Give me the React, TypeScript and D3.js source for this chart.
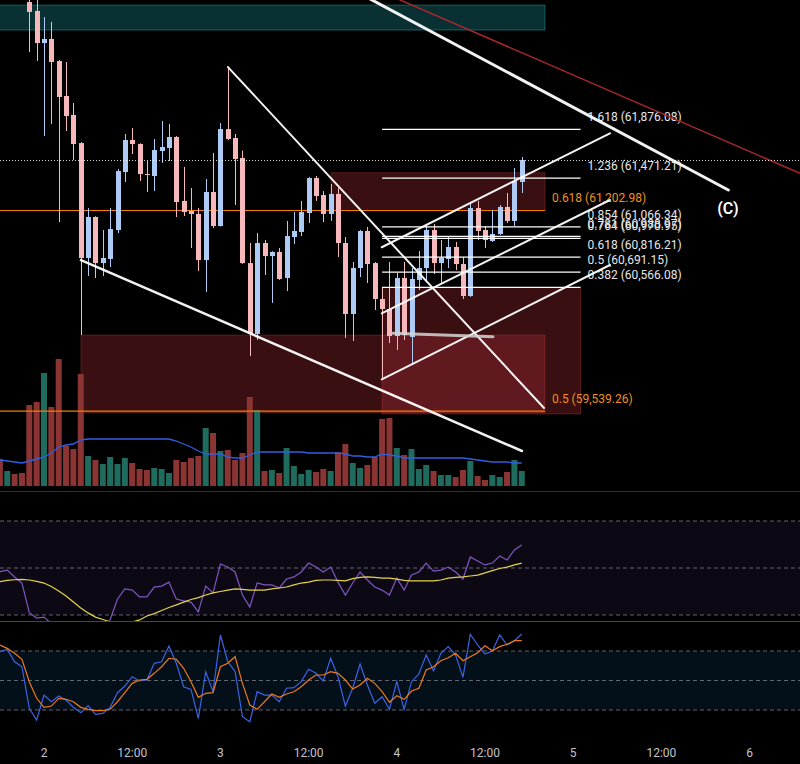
import React from 'react';
import * as d3 from 'd3';

const W = 800;
const H = 764;

// hour index 0 = day "2" 00:00 ; one candle per hour
const CANDLE_FIRST_HOUR = -2;
const candleOpen = [62931, 62857, 62591, 62625, 62442, 62152, 61995, 61762, 60809, 61149, 60767, 60801, 61041, 61522, 61787, 61754, 61505, 61489, 61696, 61721, 61812, 61282, 61199, 61174, 60792, 61356, 61074, 61878, 61804, 61638, 60767, 60179, 60933, 60825, 60859, 60643, 60983, 61025, 61182, 61472, 61331, 61174, 61340, 60933, 60345, 60726, 61033, 60767, 60469, 60386, 60162, 60643, 60154, 60627, 60726, 61041, 60767, 60801, 60900, 60759, 60494, 61223, 61041, 60950, 61008, 61232, 61116, 61439];
const candleHigh = [62990, 62950, 62807, 62766, 62450, 62434, 62094, 61770, 61223, 61155, 61041, 61223, 61547, 61837, 61887, 61760, 61613, 61796, 61945, 61920, 61820, 61563, 61389, 61223, 61464, 61680, 61928, 62392, 61837, 61700, 60933, 61016, 60958, 60865, 60892, 61116, 61190, 61282, 61480, 61489, 61364, 61422, 61389, 60983, 60776, 61041, 61066, 60776, 60568, 60776, 60685, 60776, 60726, 60867, 61074, 61091, 60958, 60983, 60942, 60817, 61265, 61282, 61074, 61207, 61248, 61348, 61555, 61646];
const candleLow = [62517, 62442, 61820, 61920, 61107, 61862, 61621, 60170, 60660, 60643, 60660, 60734, 61016, 61439, 61671, 61447, 61356, 61364, 61597, 61613, 61149, 61157, 60892, 60701, 60527, 61058, 61070, 61787, 61248, 60760, 59996, 60129, 60668, 60436, 60627, 60535, 60925, 60991, 61099, 61282, 61107, 61116, 60817, 60146, 60121, 60651, 60602, 60378, 59806, 60104, 60046, 60129, 59922, 60544, 60610, 60676, 60602, 60726, 60709, 60469, 60486, 60958, 60892, 60942, 61000, 61099, 61074, 61348];
const candleClose = [62849, 62591, 62625, 62434, 62144, 61986, 61754, 60809, 61149, 60767, 60809, 61049, 61530, 61787, 61754, 61505, 61497, 61704, 61729, 61812, 61273, 61190, 61174, 60792, 61356, 61074, 61878, 61796, 61630, 60767, 60179, 60933, 60825, 60859, 60635, 60991, 61033, 61190, 61472, 61323, 61174, 61340, 60933, 60345, 60726, 61033, 60759, 60469, 60386, 60162, 60643, 60170, 60635, 60726, 61041, 60767, 60809, 60900, 60759, 60494, 61223, 61033, 60958, 61008, 61232, 61116, 61447, 61621];

// indicator series start 4 hours earlier (their candles are above the visible price range)
const IND_FIRST_HOUR = -6;
const earlyVolumeSide = ['d', 'u', 'd', 'd'];
const volume = [675, 375, 300, 325, 2025, 2100, 2825, 1975, 3175, 1000, 925, 2800, 750, 650, 550, 725, 550, 700, 575, 425, 400, 450, 425, 325, 650, 600, 700, 750, 1450, 1325, 875, 900, 650, 825, 2225, 1900, 375, 400, 325, 950, 500, 300, 400, 350, 425, 375, 850, 1050, 575, 450, 525, 725, 1675, 1700, 950, 775, 925, 425, 525, 375, 275, 275, 225, 400, 625, 250, 150, 275, 225, 350, 650, 375];
const volumeMA = [650, 625, 600, 575, 625, 675, 725, 825, 975, 1025, 1050, 1150, 1175, 1175, 1175, 1175, 1175, 1175, 1175, 1175, 1175, 1175, 1175, 1175, 1125, 1050, 975, 875, 800, 800, 800, 725, 700, 700, 775, 850, 850, 850, 850, 850, 850, 850, 825, 825, 825, 825, 825, 800, 750, 750, 725, 725, 800, 775, 750, 700, 700, 700, 700, 700, 700, 700, 700, 700, 675, 650, 625, 600, 600, 600, 575, 575];
const rsi = [48.4, 49.1, 46.2, 43.6, 31.0, 28.7, 29.1, 26.4, 24, 25, 23, 20, 24, 25, 24, 28, 36.8, 41.1, 40.6, 37.7, 37.7, 41.9, 42.3, 44.0, 36.8, 36.0, 35.5, 31.3, 42.3, 39.4, 51.7, 50.4, 48.3, 38.5, 33.4, 43.6, 42.8, 42.8, 41.5, 45.3, 46.2, 48.3, 52.1, 50.4, 48.3, 50.4, 44.0, 38.5, 43.6, 48.3, 44.9, 41.9, 40.6, 38.5, 45.7, 40.6, 47.0, 48.3, 52.1, 48.7, 49.1, 50.4, 48.3, 45.3, 54.7, 53.0, 51.3, 52.1, 55.1, 53.4, 57.7, 59.8];
const rsiMA = [44.2, 44.7, 45.0, 45.2, 44.9, 44.3, 43.6, 42.1, 40.2, 38.1, 35.5, 33.0, 30.9, 29.1, 28.1, 27.1, 26.6, 26.6, 27.0, 27.9, 29.6, 30.6, 31.9, 33.2, 34.3, 35.5, 36.6, 37.4, 38.5, 39.4, 40.0, 40.6, 41.1, 40.9, 40.6, 40.6, 40.6, 41.1, 41.5, 41.9, 42.8, 43.6, 44.0, 44.7, 44.9, 44.9, 44.7, 44.5, 45.5, 46.0, 46.2, 46.0, 45.7, 45.7, 45.3, 44.7, 44.5, 44.5, 44.5, 44.5, 44.9, 45.7, 46.0, 46.2, 46.6, 47.0, 47.9, 48.9, 49.8, 50.4, 51.3, 52.1];
const stochK = [79.3, 81.7, 69.1, 64.0, 21.7, 9.8, 35.2, 28.4, 34.2, 30.2, 22.7, 17.2, 24.4, 15.6, 16.6, 22.7, 37.6, 44.4, 53.9, 49.5, 50.5, 67.5, 69.1, 85.1, 67.5, 43.7, 41.0, 11.5, 58.9, 38.6, 96.3, 69.1, 58.9, 13.2, 8.1, 38.6, 35.2, 35.2, 28.4, 42.1, 42.7, 48.8, 61.4, 57.3, 49.5, 72.6, 53.9, 24.0, 42.1, 66.8, 45.4, 26.8, 33.5, 20.7, 48.8, 20.7, 48.8, 56.6, 75.9, 60.0, 77.7, 84.4, 75.9, 53.2, 97.0, 86.1, 76.9, 80.0, 96.3, 86.1, 90.5, 97.3];
const stochD = [86.1, 82.7, 77.7, 71.6, 48.8, 31.9, 22.7, 24.0, 31.9, 30.9, 28.4, 22.7, 20.7, 19.3, 19.3, 20.7, 28.4, 37.6, 47.1, 50.5, 51.2, 57.3, 64.0, 72.6, 71.6, 62.4, 48.8, 32.9, 37.0, 37.6, 64.0, 67.5, 74.2, 47.1, 25.1, 20.7, 28.4, 36.3, 32.9, 36.3, 38.6, 43.7, 50.5, 55.6, 55.6, 58.9, 57.3, 50.5, 41.3, 45.4, 52.2, 47.1, 38.6, 27.9, 34.5, 30.9, 39.3, 42.1, 60.7, 64.0, 70.1, 73.2, 77.7, 70.1, 74.2, 78.3, 85.4, 80.3, 84.4, 86.8, 90.5, 90.5];

const tickHours = [0, 12, 24, 36, 48, 60, 72, 84, 96];
const tickLabels = ['2', '12:00', '3', '12:00', '4', '12:00', '5', '12:00', '6'];

const fibLevels = [1.618, 1.236, 0.854, 0.781, 0.764, 0.618, 0.5, 0.382];
const fibPrices = [61876.08, 61471.21, 61066.34, 60988.97, 60970.95, 60816.21, 60691.15, 60566.08];
const orangeLevels = [0.618, 0.5];
const orangePrices = [61202.98, 59539.26];

// drawing anchors in (hour, price)
const fibSpan = [46, 73];
const orangeSpan = [-8, 68.16];
const tealBox = { t0: -8, t1: 68.16, p0: 62906, p1: 62699 };
const redBoxes = [
  { t0: 5.03, t1: 68.16, p0: 60170, p1: 59527 },
  { t0: 45.99, t1: 73.0, p0: 60564, p1: 59516 },
  { t0: 39.05, t1: 68.16, p0: 61516, p1: 61203 },
];
const whiteLines = [
  { a: [43.67, 62979], b: [93.1, 61373], w: 3 },
  { a: [25.03, 62392], b: [68.03, 59565], w: 2 },
  { a: [5.03, 60791], b: [65.03, 59209], w: 2.5 },
  { a: [45.95, 60898], b: [77.0, 61843], w: 2 },
  { a: [45.95, 60350], b: [77.0, 61290], w: 2 },
  { a: [45.95, 59803], b: [77.0, 60751], w: 2 },
];
const grayLine = { a: [47.48, 60185], b: [61.09, 60156] };
const redLine = { a: [47.07, 62985], b: [102.86, 61511] };
const waveLabel = { t: 93.06, p: 61170, text: '(C)' };

const x = d3.scaleLinear().domain([0, 96]).range([44, 749.6]);
const yP = d3.scaleLinear().domain([58927, 62948]).range([485, 0]);
const yV = d3.scaleLinear().domain([0, 4000]).range([486, 326]);
const yR = d3.scaleLinear().domain([30, 70]).range([615, 521]);
const yS = d3.scaleLinear().domain([20, 80]).range([710, 651]);

const UP = '#aecbf6';
const DN = '#f7b8bc';
const FONT = 'Roboto, "Noto Sans", sans-serif';
const fmt = d3.format(',.2f');

export default function App() {
  const candles = candleOpen.map((o, k) => ({
    t: CANDLE_FIRST_HOUR + k,
    o,
    h: candleHigh[k],
    l: candleLow[k],
    c: candleClose[k],
  }));
  const lastClose = candleClose[candleClose.length - 1];

  const vols = volume.map((v, k) => {
    const t = IND_FIRST_HOUR + k;
    const ci = t - CANDLE_FIRST_HOUR;
    const up = ci >= 0 ? candleClose[ci] >= candleOpen[ci] : earlyVolumeSide[k] === 'u';
    return { t, v, up };
  });

  const indLine = (arr: number[], ys: d3.ScaleLinear<number, number>) =>
    d3.line<number>().x((_, k) => x(IND_FIRST_HOUR + k)).y((v) => ys(v))(arr) || '';

  const seg = (a: number[], b: number[]) => ({ x1: x(a[0]), y1: yP(a[1]), x2: x(b[0]), y2: yP(b[1]) });

  return (
    <svg width={W} height={H} style={{ position: 'fixed', left: 0, top: 0, background: '#000' }}>
      <defs>
        <clipPath id="mainClip"><rect x={0} y={0} width={W} height={490} /></clipPath>
        <clipPath id="rsiClip"><rect x={0} y={492} width={W} height={129} /></clipPath>
        <clipPath id="stClip"><rect x={0} y={622} width={W} height={115} /></clipPath>
      </defs>
      <rect x={0} y={0} width={W} height={H} fill="#000" />

      {/* main pane */}
      <g clipPath="url(#mainClip)">
        <rect x={x(tealBox.t0)} y={yP(tealBox.p0)} width={x(tealBox.t1) - x(tealBox.t0)} height={yP(tealBox.p1) - yP(tealBox.p0)}
          fill="rgba(30,160,170,0.30)" stroke="rgba(40,170,180,0.45)" strokeWidth={1} />
        {redBoxes.map((b, k) => (
          <rect key={k} x={x(b.t0)} y={yP(b.p0)} width={x(b.t1) - x(b.t0)} height={yP(b.p1) - yP(b.p0)}
            fill="rgba(190,50,60,0.30)" stroke="rgba(200,60,70,0.35)" strokeWidth={1} />
        ))}

        {/* volume */}
        {vols.map((d) => (
          <rect key={'v' + d.t} x={x(d.t) - 3} y={yV(d.v)} width={6} height={yV(0) - yV(d.v)}
            fill={d.up ? '#1f6b5d' : '#8a3434'} />
        ))}
        <path d={indLine(volumeMA, yV)} fill="none" stroke="#2f5ee0" strokeWidth={1.3} />

        {/* orange fib */}
        {orangePrices.map((p, k) => (
          <g key={'o' + k}>
            <line x1={x(orangeSpan[0])} x2={x(orangeSpan[1])} y1={yP(p)} y2={yP(p)} stroke="#f57c00" strokeWidth={1.2} />
            <text x={x(orangeSpan[1]) + 7} y={yP(p) - 8} fill="#f0901e" fontSize={12} fontFamily={FONT}>
              {`${orangeLevels[k]} (${fmt(p)})`}
            </text>
          </g>
        ))}

        {/* candles */}
        {candles.map((d) => {
          const col = d.c >= d.o ? UP : DN;
          const cx = Math.round(x(d.t));
          const top = yP(Math.max(d.o, d.c));
          const bot = yP(Math.min(d.o, d.c));
          return (
            <g key={'c' + d.t}>
              <line x1={cx + 0.5} x2={cx + 0.5} y1={yP(d.h)} y2={yP(d.l)} stroke={col} strokeWidth={1} />
              <rect x={cx - 2} y={top} width={5} height={Math.max(1, bot - top)} fill={col} />
            </g>
          );
        })}

        {/* white fib */}
        {fibPrices.map((p, k) => (
          <g key={'f' + k}>
            <line x1={x(fibSpan[0])} x2={x(fibSpan[1])} y1={yP(p)} y2={yP(p)} stroke="#ffffff" strokeWidth={1.2} />
            <text x={x(fibSpan[1]) + 7} y={yP(p) - 8} fill="#e6e6e6" fontSize={12} fontFamily={FONT}>
              {`${fibLevels[k]} (${fmt(p)})`}
            </text>
          </g>
        ))}

        {/* trend lines */}
        <line {...seg(redLine.a, redLine.b)} stroke="#a8282c" strokeWidth={1.5} />
        {whiteLines.map((l, k) => (
          <line key={'w' + k} {...seg(l.a, l.b)} stroke="#ffffff" strokeWidth={l.w} strokeLinecap="round" opacity={0.95} />
        ))}
        <line {...seg(grayLine.a, grayLine.b)} stroke="#d4d4d4" strokeWidth={3} strokeLinecap="round" opacity={0.85} />

        <text x={x(waveLabel.t)} y={yP(waveLabel.p)} textAnchor="middle" fill="#ffffff" fontSize={16} fontWeight={600} fontFamily={FONT}>
          {waveLabel.text}
        </text>

        {/* last price line */}
        <line x1={0} x2={W} y1={Math.round(yP(lastClose)) + 0.5} y2={Math.round(yP(lastClose)) + 0.5}
          stroke="#ffffff" strokeWidth={1} strokeDasharray="1,2" opacity={0.85} />
      </g>

      {/* separators */}
      <line x1={0} x2={W} y1={491.5} y2={491.5} stroke="#2a2e39" strokeWidth={1} />
      <line x1={0} x2={W} y1={621.5} y2={621.5} stroke="#434651" strokeWidth={1} />

      {/* RSI pane */}
      <g clipPath="url(#rsiClip)">
        <rect x={0} y={yR(70)} width={W} height={yR(30) - yR(70)} fill="rgba(126,87,194,0.10)" />
        {[70, 50, 30].map((v) => (
          <line key={'r' + v} x1={0} x2={W} y1={yR(v)} y2={yR(v)} stroke="#787b86" strokeWidth={1} strokeDasharray="4,3" opacity={0.8} />
        ))}
        <path d={indLine(rsi, yR)} fill="none" stroke="#7e57c2" strokeWidth={1.2} />
        <path d={indLine(rsiMA, yR)} fill="none" stroke="#e3d34a" strokeWidth={1.2} />
      </g>

      {/* Stoch pane */}
      <g clipPath="url(#stClip)">
        <rect x={0} y={yS(80)} width={W} height={yS(20) - yS(80)} fill="rgba(33,150,243,0.10)" />
        {[80, 50, 20].map((v) => (
          <line key={'s' + v} x1={0} x2={W} y1={yS(v)} y2={yS(v)} stroke="#787b86" strokeWidth={1} strokeDasharray="4,3" opacity={0.8} />
        ))}
        <path d={indLine(stochK, yS)} fill="none" stroke="#3b64e6" strokeWidth={1.2} />
        <path d={indLine(stochD, yS)} fill="none" stroke="#f07a1a" strokeWidth={1.2} />
      </g>

      {/* time axis */}
      {tickHours.map((h, k) => (
        <text key={'t' + k} x={x(h)} y={757} textAnchor="middle" fill="#c2c4cb" fontSize={12} fontFamily={FONT}>
          {tickLabels[k]}
        </text>
      ))}
    </svg>
  );
}
